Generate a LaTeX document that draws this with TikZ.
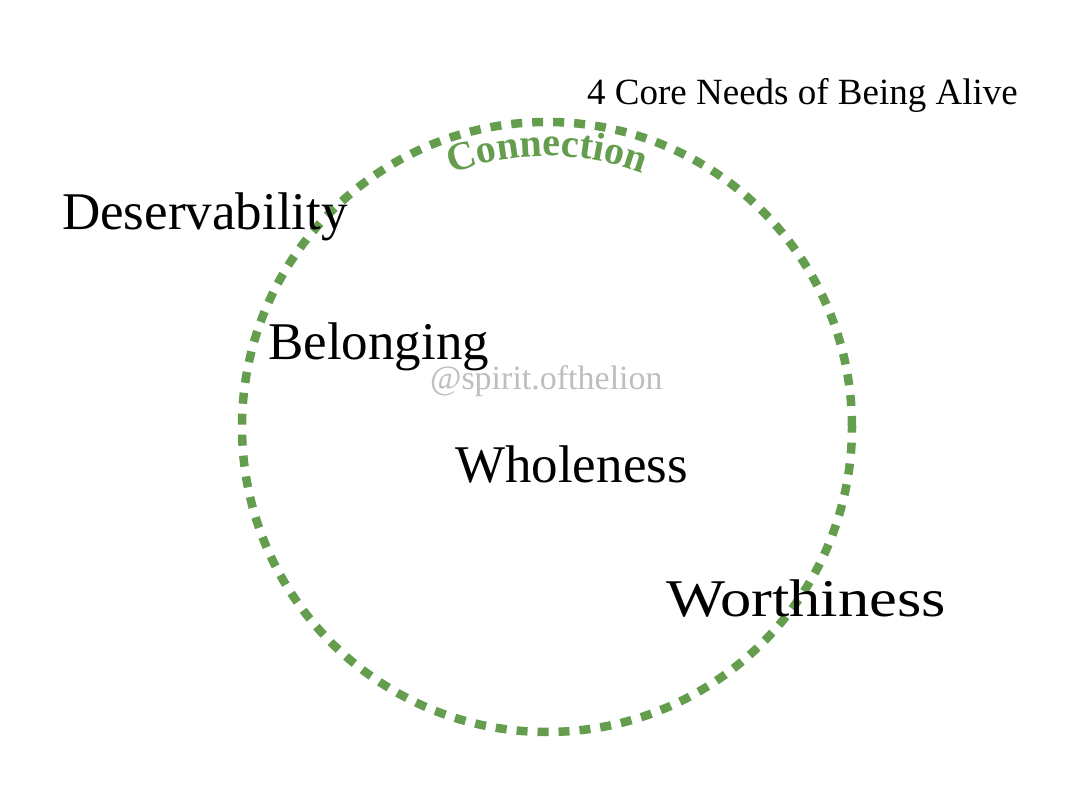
\documentclass[tikz,border=0pt]{standalone}
\usepackage{fontspec}
\setmainfont{Liberation Serif}
\usetikzlibrary{decorations.text}
\definecolor{ringgreen}{RGB}{99,157,77}
\definecolor{markgray}{RGB}{190,190,190}
\tikzset{
  biglabel/.style={anchor=base west, inner sep=0pt, font=\fontsize{53}{60}\selectfont, text=black},
  ring/.style={draw=ringgreen, line width=8.5pt, dash pattern=on 11pt off 10pt},
}
\begin{document}
\begin{tikzpicture}[x=1pt,y=1pt]
\useasboundingbox (0,0) rectangle (1080,810);
\fill[white] (0,0) rectangle (1080,810);
\coordinate (c) at (547,383);
\draw[ring] (c) circle (305);
\path[decorate, decoration={text along path, text align=center,
  text={|\color{ringgreen}\bfseries\fontsize{40}{44}\selectfont|Connection}}]
  ([shift={(135:271)}]c) arc[start angle=135, end angle=45, radius=271];
\node[anchor=base west, inner sep=0pt, font=\fontsize{37}{40}\selectfont] (title) at (587,705) {4 Core Needs of Being Alive};
\node[biglabel] (des) at (62,580) {Deservability};
\node[biglabel] (bel) at (268,450) {Belonging};
\node[anchor=base west, inner sep=0pt, font=\fontsize{34}{36}\selectfont, text=markgray] (mark) at (430,420) {@spirit.ofthelion};
\node[biglabel] (who) at (455,327) {Wholeness};
\node[biglabel] (wor) at (666,193) {\scalebox{1.18}[1]{Worthiness}};
\end{tikzpicture}
\end{document}
